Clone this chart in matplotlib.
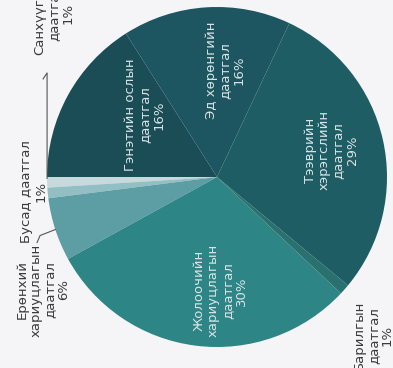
import numpy as np
import matplotlib.pyplot as plt

# Даатгалын төрөл, хувь (зураг 90 градус эргэсэн)
names = ['Санхүүгийн\nдаатгал', 'Бусад даатгал', 'Ерөнхий\nхариуцлагын\nдаатгал',
         'Жолоочийн\nхариуцлагын\nдаатгал', 'Барилгын\nдаатгал',
         'Тээврийн\nхэрэгслийн\nдаатгал', 'Эд хөрөнгийн\nдаатгал',
         'Гэнэтийн ослын\nдаатгал']
shares = [1, 1, 6, 30, 1, 29, 16, 16]
colors = ['#c6dade', '#93bec3', '#5c9ea3', '#2e8586', '#28716f',
          '#1f5d64', '#1d5660', '#1b4d57']
inside = [False, False, False, True, False, True, True, True]

# шошгоны байрлал: (өнцгийн шилжилт, радиусын харьцаа)
label_place = [(-47, 1.36), (-1, 1.08), (15, 1.22), (9, 0.67),
               (-4, 1.31), (0.6, 0.69), (-8, 0.63), (-12, 0.56)]

W, H = 393, 368
cx, cy, R = 217, 191, 170

fig = plt.figure(figsize=(W / 100, H / 100), dpi=100)
fig.patch.set_facecolor('#f5f5f7')
ax = fig.add_axes([0, 0, 1, 1])

wedges, _ = ax.pie(shares, colors=colors, startangle=180, counterclock=True,
                   center=(cx, cy), radius=R, frame=True,
                   wedgeprops=dict(linewidth=0))
ax.set_xlim(0, W)
ax.set_ylim(0, H)
ax.set_aspect('equal')
ax.axis('off')

font = dict(family=['DejaVu Sans'], fontsize=9.5, rotation=90,
            ha='center', va='center', multialignment='center', linespacing=1.1)

for i, w in enumerate(wedges):
    mid = (w.theta1 + w.theta2) / 2
    dth, rf = label_place[i]
    a = np.deg2rad(mid + dth)
    tx, ty = cx + rf * R * np.cos(a), cy + rf * R * np.sin(a)
    txt = f'{names[i]}\n{shares[i]}%'
    col = '#d9e4e6' if inside[i] else '#3a3a3a'
    ax.text(tx, ty, txt, color=col, **font)

    # жижиг секторуудын заагч шугам
    am = np.deg2rad(mid)
    ex, ey = cx + R * np.cos(am), cy + R * np.sin(am)
    if i == 0:
        ax.plot([ex, ex, ex - 4], [ey + 4, ty - 60, ty - 66],
                color='#555555', lw=0.8)
    if i == 2:
        ax.plot([ex, tx - 3, tx - 6], [ey, ey - 6, ey - 13],
                color='#555555', lw=0.8)

fig.savefig('out.png', dpi=100, facecolor=fig.get_facecolor())
